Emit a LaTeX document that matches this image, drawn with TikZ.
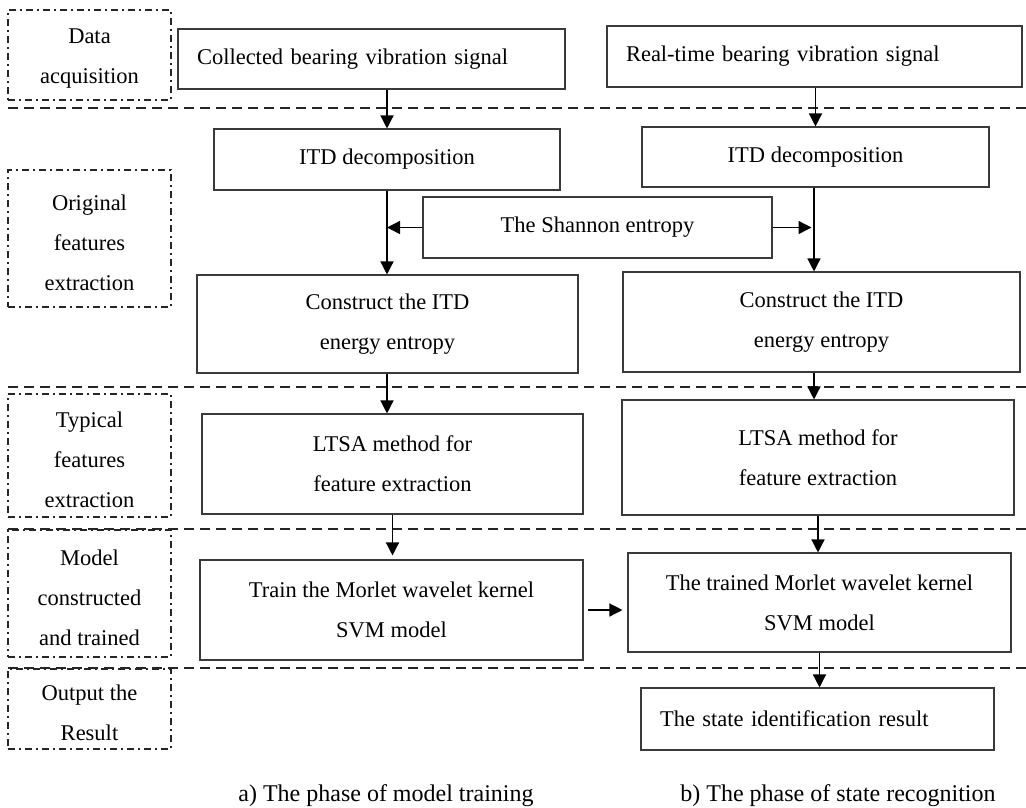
\documentclass[tikz,border=0pt]{standalone}
\usepackage{fontspec}
\setmainfont{Liberation Serif}
\usetikzlibrary{arrows.meta}
\definecolor{boxline}{HTML}{3A3A3A}
\begin{document}
\begin{tikzpicture}[x=1pt,y=-1pt,
  every node/.style={font=\fontsize{22.5}{40}\selectfont},
  procbox/.style={draw=boxline, line width=1.1pt, rectangle, inner sep=0pt, align=center},
  leftbox/.style={draw=boxline, line width=1.1pt, rectangle, inner ysep=0pt, inner xsep=19pt, align=left},
  labelbox/.style={draw=black!85, line width=1.3pt, rectangle, inner sep=0pt,
                   minimum width=163pt, dash pattern=on 7pt off 4pt on 2pt off 4pt},
  labeltext/.style={align=center, inner sep=0pt, yshift=-4pt},
  sepline/.style={draw=black!85, line width=1.4pt, dash pattern=on 10pt off 6pt},
  arr/.style={draw=black, line width=1.4pt, -{Triangle[length=13pt,width=13pt]}},
  caption/.style={font=\fontsize{24}{28}\selectfont, anchor=base, inner sep=0pt}
]
\useasboundingbox (0,0) rectangle (1026,807);

% separator lines
\coordinate (s1a) at (8,108);  \coordinate (s1b) at (1026,108);
\coordinate (s2a) at (8,387);  \coordinate (s2b) at (1026,387);
\coordinate (s3a) at (8,529);  \coordinate (s3b) at (1026,529);
\coordinate (s4a) at (8,668);  \coordinate (s4b) at (1026,668);
\draw[sepline] (s1a) -- (s1b);
\draw[sepline] (s2a) -- (s2b);
\draw[sepline] (s3a) -- (s3b);
\draw[sepline] (s4a) -- (s4b);

% stage labels
\node[labelbox, minimum height=90pt]  (L1) at (89.5,55)    {};
\node[labelbox, minimum height=137pt] (L2) at (89.5,238.5) {};
\node[labelbox, minimum height=123pt] (L3) at (89.5,455.5) {};
\node[labelbox, minimum height=127pt] (L4) at (89.5,593.5) {};
\node[labelbox, minimum height=80pt]  (L5) at (89.5,709)   {};
\node[labeltext] (L1t) at (L1.center) {Data\\acquisition};
\node[labeltext] (L2t) at (L2.center) {Original\\features\\extraction};
\node[labeltext] (L3t) at (L3.center) {Typical\\features\\extraction};
\node[labeltext] (L4t) at (L4.center) {Model\\constructed\\and trained};
\node[labeltext] (L5t) at (L5.center) {Output the\\Result};

% process boxes
\node[leftbox, text width=349pt, minimum height=60pt] (col) at (371.5,59) {Collected bearing vibration signal};
\node[leftbox, text width=377pt, minimum height=61pt] (rt)  at (814.5,56.5) {Real-time bearing vibration signal};
\node[procbox, minimum width=346pt, minimum height=61pt] (itdL) at (387,159.5) {ITD decomposition};
\node[procbox, minimum width=347pt, minimum height=60pt] (itdR) at (815.5,157) {ITD decomposition};
\node[procbox, minimum width=349pt, minimum height=61pt] (sh) at (597.5,227.5) {The Shannon entropy};
\node[procbox, minimum width=381pt, minimum height=98pt] (conL) at (387.5,324) {Construct the ITD\\energy entropy};
\node[procbox, minimum width=397pt, minimum height=100pt] (conR) at (821.5,322) {Construct the ITD\\energy entropy};
\node[procbox, minimum width=381pt, minimum height=100pt] (ltsaL) at (392.5,464) {LTSA method for\\feature extraction};
\node[procbox, minimum width=392pt, minimum height=115pt] (ltsaR) at (818,457.5) {LTSA method for\\feature extraction};
\node[procbox, minimum width=383pt, minimum height=100pt] (trainL) at (391.5,610) {Train the Morlet wavelet kernel\\SVM model};
\node[procbox, minimum width=383pt, minimum height=99pt] (trainR) at (819.5,602.5) {The trained Morlet wavelet kernel\\SVM model};
\node[leftbox, text width=315pt, minimum height=62pt] (state) at (817.5,719) {The state identification result};

% connectors
\draw[arr] (itdL.north |- col.south) -- (itdL.north);
\draw[arr] (itdR.north |- rt.south) -- (itdR.north);
\draw[arr] (itdL.south) -- (itdL.south |- conL.north);
\draw[arr] ([xshift=-1.5pt]itdR.south) -- ([xshift=-1.5pt]itdR.south |- conR.north);
\draw[arr] (sh.west) -- (sh.west -| itdL.south);
\draw[arr, shorten >=4pt] (sh.east) -- (sh.east -| itdR.south);
\draw[arr] (itdL.south |- conL.south) -- (itdL.south |- ltsaL.north);
\draw[arr] ([xshift=-1.5pt]itdR.south |- conR.south) -- ([xshift=-1.5pt]itdR.south |- ltsaR.north);
\draw[arr, shorten >=4pt] (ltsaL.south) -- (ltsaL.south |- trainL.north);
\draw[arr] (ltsaR.south) -- (ltsaR.south |- trainR.north);
\draw[arr, shorten <=4pt, shorten >=5pt] (trainL.east) -- (trainL.east -| trainR.west);
\draw[arr] (trainR.south) -- (trainR.south |- state.north);

% captions
\node[caption] (capA) at (386,801) {a) The phase of model training};
\node[caption] (capB) at (838,801) {b) The phase of state recognition};
\end{tikzpicture}
\end{document}
